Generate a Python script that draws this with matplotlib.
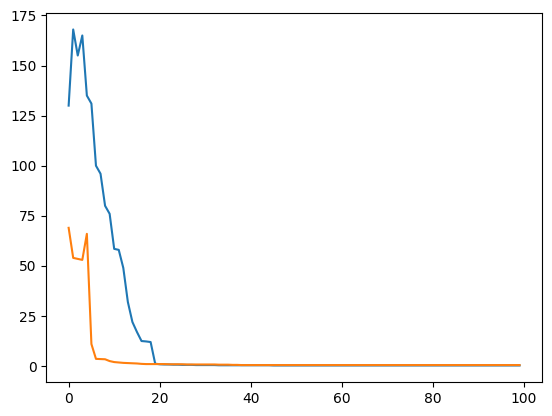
import matplotlib.pyplot as plt

# valeurs (100 points par courbe)
serie_bleue = [
    130, 168, 155, 165, 135, 131, 100, 96, 80, 76,
    58.5, 58, 49, 32, 22, 17, 12.5, 12.3, 12, 1.2,
    0.9, 0.8, 0.8, 0.7, 0.7, 0.6, 0.6, 0.6, 0.5, 0.5,
    0.5, 0.5, 0.5, 0.4, 0.4, 0.4, 0.4, 0.4, 0.4, 0.4,
    0.4, 0.4, 0.4, 0.4, 0.4, 0.3, 0.3, 0.3, 0.3, 0.3,
    0.3, 0.3, 0.3, 0.3, 0.3, 0.3, 0.3, 0.3, 0.3, 0.3,
    0.3, 0.3, 0.3, 0.3, 0.3, 0.3, 0.3, 0.3, 0.3, 0.3,
    0.3, 0.3, 0.3, 0.3, 0.3, 0.3, 0.3, 0.3, 0.3, 0.3,
    0.3, 0.3, 0.3, 0.3, 0.3, 0.3, 0.3, 0.3, 0.3, 0.3,
    0.3, 0.3, 0.3, 0.3, 0.3, 0.3, 0.3, 0.3, 0.3, 0.3,
]

serie_orange = [
    69, 54, 53.5, 53, 66, 11, 3.6, 3.5, 3.4, 2.5,
    2.0, 1.8, 1.6, 1.5, 1.4, 1.3, 1.1, 1.0, 1.0, 1.0,
    1.0, 1.0, 0.9, 0.9, 0.9, 0.9, 0.8, 0.8, 0.8, 0.8,
    0.8, 0.8, 0.8, 0.7, 0.7, 0.7, 0.6, 0.6, 0.5, 0.5,
    0.5, 0.5, 0.5, 0.5, 0.5, 0.5, 0.5, 0.5, 0.5, 0.5,
    0.5, 0.5, 0.5, 0.5, 0.5, 0.5, 0.5, 0.5, 0.5, 0.5,
    0.5, 0.5, 0.5, 0.5, 0.5, 0.5, 0.5, 0.5, 0.5, 0.5,
    0.5, 0.5, 0.5, 0.5, 0.5, 0.5, 0.5, 0.5, 0.5, 0.5,
    0.5, 0.5, 0.5, 0.5, 0.5, 0.5, 0.5, 0.5, 0.5, 0.5,
    0.5, 0.5, 0.5, 0.5, 0.5, 0.5, 0.5, 0.5, 0.5, 0.5,
]

plt.figure(figsize=(6.4, 4.8), dpi=100)
plt.plot(serie_bleue)
plt.plot(serie_orange)
plt.savefig('out.png', dpi=100, bbox_inches='tight')
